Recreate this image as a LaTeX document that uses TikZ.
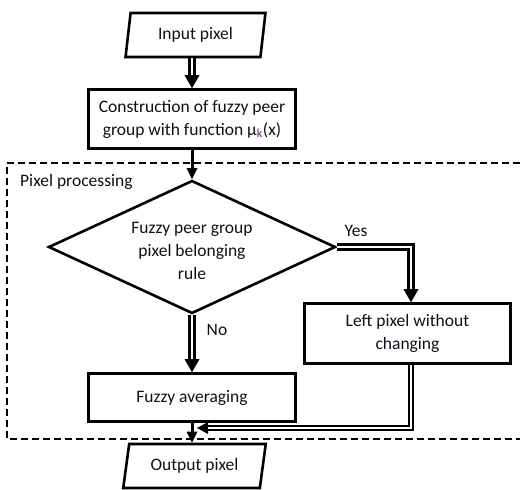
\documentclass[tikz,border=0pt]{standalone}
\usepackage{fontspec}
\setmainfont{Carlito}
\usetikzlibrary{shapes.geometric,arrows.meta,calc}
\definecolor{txt}{RGB}{15,15,25}
\definecolor{subk}{RGB}{100,40,110}
\begin{document}
\begin{tikzpicture}[x=1pt,y=-1pt, font=\fontsize{17.5}{23}\selectfont,
  box/.style={draw, line width=2.6pt, rectangle, align=center, inner sep=2pt, text=txt},
  io/.style={draw, line width=2.6pt, trapezium, trapezium stretches=true, align=center, text=txt, inner sep=0pt},
  dec/.style={draw, line width=2.6pt, diamond, aspect=2.15, align=center, inner sep=0pt, text=txt},
  dblout/.style={draw, line width=8pt, -{Triangle[length=13pt,width=15pt,line width=0pt]}},
  dblin/.style={draw=white, line width=2.8pt, shorten >=13pt},
  thinout/.style={draw, line width=5.5pt, -{Triangle[length=11pt,width=12pt,line width=0pt]}},
  thinin/.style={draw=white, line width=2pt, shorten >=11pt},
  single/.style={draw, line width=3pt, -{Triangle[length=11pt,width=11pt,line width=0pt]}},
  lbl/.style={text=txt, inner sep=0pt},
  group/.style={draw, line width=2.2pt, dash pattern=on 7pt off 4pt}]
\useasboundingbox (0,0) rectangle (520,490);
% group frame
\draw[group] (520,163) -- (7,163) -- (7,439) -- (520,439);
% nodes
\node[io, trapezium left angle=79, trapezium right angle=101, minimum width=141pt, minimum height=44pt] (in) at (195.5,35) {Input pixel};
\node[box, minimum width=207pt, minimum height=59pt] (con) at (192,119) {Construction of fuzzy peer\\group with function μ\textsubscript{\textcolor{subk}{k}}(x)};
\node[dec, minimum width=287pt, minimum height=133pt] (dec) at (192,247) {};
\node[lbl, align=center] (dectext) at (192,251) {Fuzzy peer group\\pixel belonging\\rule};
\node[box, minimum width=206pt, minimum height=60pt] (left) at (407.5,333.5) {Left pixel without\\changing};
\node[box, minimum width=207pt, minimum height=48pt] (avg) at (192,397.5) {Fuzzy averaging};
\node[io, trapezium left angle=75, trapezium right angle=105, minimum width=143pt, minimum height=44pt] (out) at (194.5,466) {Output pixel};
\node[lbl, anchor=west] (pp) at (20,182) {Pixel processing};
\node[lbl] (yes) at (356,231) {Yes};
\node[lbl] (no) at (217,330) {No};
\coordinate (ret) at (197,428);
% connectors
\draw[dblout] (in.south -| con.north) -- (con.north);
\draw[dblin] (in.south -| con.north) -- (con.north);
\draw[single] (con.south) -- (dec.north);
\draw[dblout] (dec.south) -- (avg.north);
\draw[dblin] (dec.south) -- (avg.north);
\draw[dblout] (dec.east) -| ([xshift=3.5pt]left.north);
\draw[dblin] (dec.east) -| ([xshift=3.5pt]left.north);
\draw[thinout] ([xshift=3.5pt]left.south) |- (ret);
\draw[thinin] ([xshift=3.5pt]left.south) |- (ret);
\draw[single] (avg.south) -- (avg.south |- out.north);
\end{tikzpicture}
\end{document}
